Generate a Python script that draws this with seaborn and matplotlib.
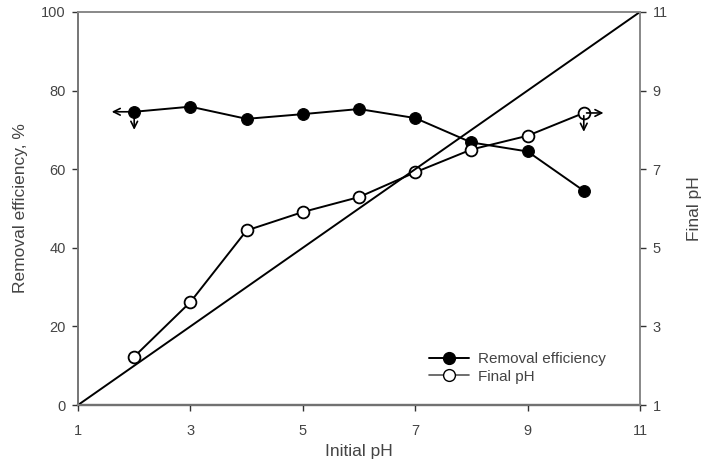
import matplotlib
matplotlib.use('Agg')
from matplotlib import pyplot as plt
from matplotlib.lines import Line2D
import numpy as np
import pandas as pd
import seaborn as sns

# data
initial_ph = [2, 3, 4, 5, 6, 7, 8, 9, 10]
removal_eff = [74.6, 75.9, 72.8, 74.0, 75.3, 73.0, 66.8, 64.5, 54.5]
final_ph = [2.23, 3.62, 5.44, 5.91, 6.29, 6.92, 7.5, 7.85, 8.43]
diag_ph = [1, 11]

sns.set_theme(style='white')
plt.rcParams['font.family'] = ['Liberation Sans', 'DejaVu Sans']
txt = '#444444'

df = pd.DataFrame({'initial_ph': initial_ph, 'removal': removal_eff, 'final': final_ph})
diag = pd.DataFrame({'x': diag_ph, 'y': diag_ph})

fig = plt.figure(figsize=(7.13, 4.59), dpi=100)
ax = fig.add_axes([0.1094, 0.1176, 0.7882, 0.8564])
ax2 = ax.twinx()

sns.lineplot(data=df, x='initial_ph', y='removal', ax=ax, color='black', lw=1.4,
             marker='o', markersize=8.5, markerfacecolor='black', markeredgecolor='black',
             legend=False)
sns.lineplot(data=df, x='initial_ph', y='final', ax=ax2, color='black', lw=1.4,
             marker='o', markersize=8.5, markerfacecolor='white', markeredgecolor='black',
             markeredgewidth=1.3, legend=False)
sns.lineplot(data=diag, x='x', y='y', ax=ax2, color='black', lw=1.4, legend=False)

# arrows showing which axis each series belongs to
arr = dict(arrowstyle='->', color='black', lw=1.2)
ax.annotate('', xy=(1.55, removal_eff[0]), xytext=(initial_ph[0], removal_eff[0]), arrowprops=arr)
ax.annotate('', xy=(initial_ph[0], 69.3), xytext=(initial_ph[0], removal_eff[0]), arrowprops=arr)
ax2.annotate('', xy=(10.4, final_ph[-1]), xytext=(initial_ph[-1], final_ph[-1]), arrowprops=arr)
ax2.annotate('', xy=(initial_ph[-1], 7.88), xytext=(initial_ph[-1], final_ph[-1]), arrowprops=arr)

ax.set_xlim(1, 11)
ax.set_ylim(0, 100)
ax2.set_ylim(1, 11)
ax.set_xticks([1, 3, 5, 7, 9, 11])
ax.set_yticks([0, 20, 40, 60, 80, 100])
ax2.set_yticks([1, 3, 5, 7, 9, 11])

for a in (ax, ax2):
    a.tick_params(direction='out', length=4, width=1, colors='#333333', labelsize=10.5,
                  labelcolor=txt, pad=5)
    for s in a.spines.values():
        s.set_color('#888888')
        s.set_linewidth(1.2)
ax.tick_params(axis='y', left=True, right=False)
ax.tick_params(axis='x', bottom=True, pad=10)
ax2.tick_params(axis='y', right=True)
ax.spines['left'].set_color('black')
ax.spines['bottom'].set_color('black')
ax.spines['bottom'].set_linewidth(1.6)

ax.set_xlabel('Initial pH', fontsize=12.5, color=txt, labelpad=4)
ax.set_ylabel('Removal efficiency, %', fontsize=12.5, color=txt, labelpad=9)
ax2.set_ylabel('Final pH', fontsize=12.5, color=txt, labelpad=14)

handles = [Line2D([], [], color='black', lw=1.4, marker='o', markersize=8.5,
                  markerfacecolor='black'),
           Line2D([], [], color='#555555', lw=1.2, marker='o', markersize=8.5,
                  markerfacecolor='white', markeredgecolor='black')]
leg = ax2.legend(handles, ['Removal efficiency', 'Final pH'], loc='upper left',
                 bbox_to_anchor=(0.6, 0.17), frameon=False, fontsize=11,
                 handlelength=2.6, labelspacing=0.25, handletextpad=0.6)
for t in leg.get_texts():
    t.set_color(txt)

fig.savefig('out.png', dpi=100)
